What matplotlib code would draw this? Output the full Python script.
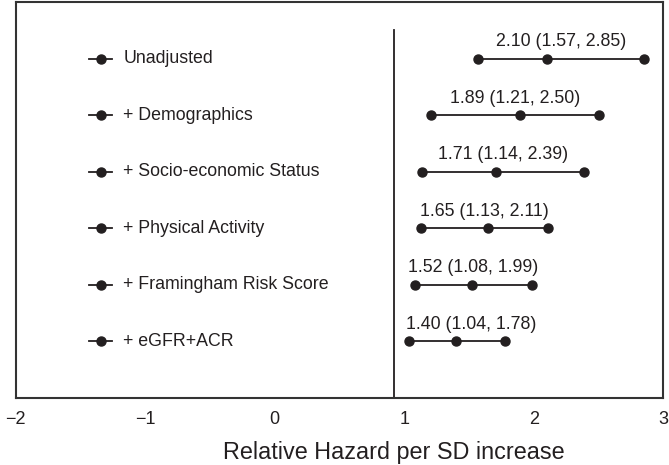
import matplotlib.pyplot as plt

plt.rcParams['font.family'] = ['Liberation Sans', 'DejaVu Sans']

models = ["Unadjusted", "+ Demographics", "+ Socio-economic Status",
          "+ Physical Activity", "+ Framingham Risk Score", "+ eGFR+ACR"]
hr = [2.10, 1.89, 1.71, 1.65, 1.52, 1.40]
lo = [1.57, 1.21, 1.14, 1.13, 1.08, 1.04]
hi = [2.85, 2.50, 2.39, 2.11, 1.99, 1.78]
xticks = [-2, -1, 0, 1, 2, 3]

ink = '#231f20'
ref_x = 0.92

fig = plt.figure(figsize=(6.69, 4.65), dpi=100)
ax = fig.add_axes([15.7/669, 1 - 398/465, (663.3-15.7)/669, (398-2)/465])

ax.set_xlim(-2, 3)
n = len(models)
ax.set_ylim(0, n + 1)

labels = []
for i in range(n):
    y = n - i
    ax.plot([lo[i], hr[i], hi[i]], [y, y, y], color=ink, lw=1.3,
            marker='o', ms=6.5, mfc=ink, mec=ink)
    t = ax.text((lo[i] + hi[i]) / 2, y + 0.3, "%.2f (%.2f, %.2f)" % (hr[i], lo[i], hi[i]),
                ha='center', va='center', fontsize=12.8, color=ink)
    labels.append(t)
    # legend-like glyph next to model label
    ax.plot([-1.434, -1.256], [y, y], color=ink, lw=1.3)
    ax.plot([-1.341], [y], 'o', color=ink, ms=6.5)
    ax.text(-1.17, y, models[i], ha='left', va='center', fontsize=12.8, color=ink)

ax.plot([ref_x, ref_x], [0, n + 0.5], color=ink, lw=1.3)

# keep the estimate labels clear of the reference line
fig.canvas.draw()
r = fig.canvas.get_renderer()
line_px = ax.transData.transform((ref_x, 0))[0]
for t in labels:
    bb = t.get_window_extent(r)
    if bb.x0 < line_px + 10:
        x_data = ax.transData.inverted().transform((line_px + 12, 0))[0]
        t.set_x(x_data)
        t.set_ha('left')

ax.set_xticks(xticks)
ax.set_xticklabels([str(t).replace('-', '\u2212') for t in xticks], fontsize=13, color=ink)
ax.tick_params(axis='x', length=0, pad=9)
ax.set_yticks([])
for s in ax.spines.values():
    s.set_color('#333333')
    s.set_linewidth(1.5)

ax.text(ref_x, -0.97, "Relative Hazard per SD increase", transform=ax.transData,
        ha='center', va='center', fontsize=16.8, color=ink)

fig.savefig('out.png', dpi=100)
